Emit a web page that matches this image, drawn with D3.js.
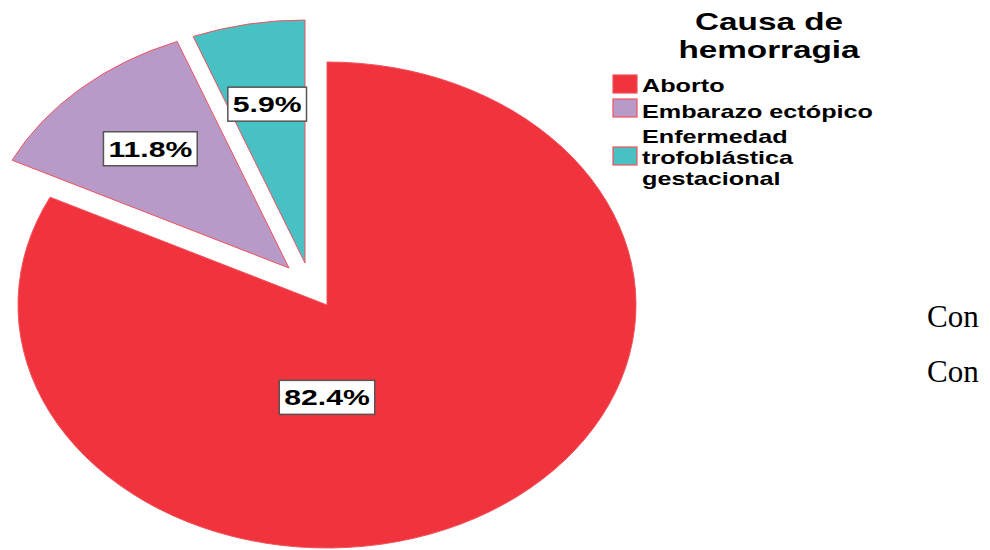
<!DOCTYPE html>
<html>
<head>
<meta charset="utf-8">
<script src="https://cdn.jsdelivr.net/npm/d3@7"></script>
<style>
  html, body { margin: 0; padding: 0; background: #fff; }
  svg { display: block; }
  .bold { font-family: "Liberation Sans", Arial, sans-serif; font-weight: bold; fill: #000; }
  .serif { font-family: "Liberation Serif", "Times New Roman", serif; fill: #000; }
</style>
</head>
<body>
<svg id="chart" width="990" height="550"></svg>
<script>
// Causa de hemorragia: share of cases per cause (%)
const categories = ["Aborto", "Embarazo ectópico", "Enfermedad trofoblástica gestacional"];
const legendLines = [["Aborto"], ["Embarazo ectópico"], ["Enfermedad", "trofoblástica", "gestacional"]];
const values = [82.4, 11.8, 5.9];
const colors = ["#f0333c", "#b89ac8", "#48c1c5"];
const legendTitle = ["Causa de", "hemorragia"];
const sideText = ["Con", "Con"];

// ---- layout ----
const svg = d3.select("#chart");
const cx = 327, cy = 305;          // pie centre
const rx = 309, ry = 243;          // horizontal / vertical radii
const stretch = 1.37;              // horizontal text stretch
const explodeOffset = [[0, 0], [-38, -37], [-22, -42]];
const labelFrac = 0.665;

const pie = d3.pie().sort(null).value(d => d)(values);
const arc = d3.arc().innerRadius(0).outerRadius(ry);
const xScale = rx / ry;

const slices = svg.append("g");
pie.forEach((p, i) => {
  const [dx, dy] = explodeOffset[i];
  slices.append("path")
    .attr("d", arc(p))
    .attr("transform", `translate(${cx + dx},${cy + dy}) scale(${xScale},1)`)
    .attr("fill", colors[i])
    .attr("stroke", "#f0525c")
    .attr("stroke-width", 1)
    .attr("vector-effect", "non-scaling-stroke");
});

// value labels in boxes
function labelPos(p, i) {
  const [dx, dy] = explodeOffset[i];
  let a = (p.startAngle + p.endAngle) / 2, f = labelFrac;
  if (p.endAngle - p.startAngle > Math.PI) { a = Math.PI; f = 0.38; }
  return [cx + dx + rx * f * Math.sin(a), cy + dy - ry * f * Math.cos(a)];
}
const fmt = v => v.toFixed(1) + "%";
pie.forEach((p, i) => {
  const [x, y] = labelPos(p, i);
  const g = svg.append("g").attr("transform", `translate(${x},${y})`);
  const rect = g.append("rect");
  const t = g.append("text").attr("class", "bold")
    .attr("text-anchor", "middle")
    .attr("dy", "0.36em")
    .attr("font-size", 22)
    .attr("transform", `scale(${stretch},1)`)
    .text(fmt(values[i]));
  const w = t.node().getComputedTextLength() * stretch + 10;
  const h = 34;
  rect.attr("x", -w / 2).attr("y", -h / 2).attr("width", w).attr("height", h)
    .attr("fill", "#fff").attr("stroke", "#555").attr("stroke-width", 1.5);
});

// legend
const lg = svg.append("g");
const titleX = 769;
legendTitle.forEach((s, k) => {
  lg.append("text").attr("class", "bold")
    .attr("transform", `translate(${titleX},${30 + k * 28}) scale(${stretch},1)`)
    .attr("text-anchor", "middle").attr("font-size", 24.3).text(s);
});
const swatchX = 613, textX = 642;
const entryBaselines = [[92], [118], [143, 164, 185]];
const swatchY = [75, 99, 147];
categories.forEach((c, i) => {
  lg.append("rect")
    .attr("x", swatchX).attr("y", swatchY[i])
    .attr("width", 24).attr("height", 18)
    .attr("fill", colors[i]).attr("stroke", "#f0525c").attr("stroke-width", 1.2);
  legendLines[i].forEach((s, k) => {
    lg.append("text").attr("class", "bold")
      .attr("transform", `translate(${textX},${entryBaselines[i][k]}) scale(${stretch},1)`)
      .attr("font-size", 18.4).text(s);
  });
});

// surrounding document text
sideText.forEach((s, k) => {
  svg.append("text").attr("class", "serif")
    .attr("x", 927).attr("y", 327 + k * 55)
    .attr("font-size", 31).text(s);
});
</script>
</body>
</html>
